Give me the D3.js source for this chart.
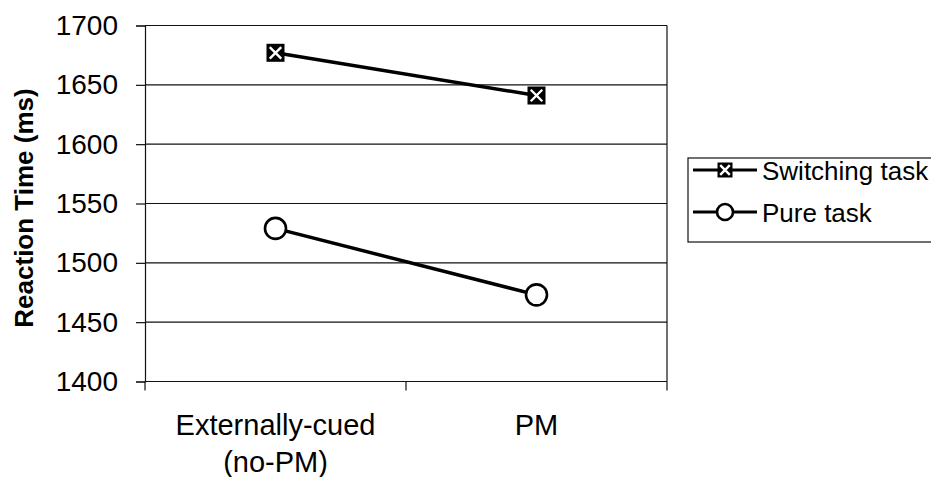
<!DOCTYPE html>
<html>
<head>
<meta charset="utf-8">
<script src="https://cdn.jsdelivr.net/npm/d3@7"></script>
<style>
  body { margin: 0; background: #fff; }
  text { font-family: "Liberation Sans", Arial, sans-serif; fill: #000; }
</style>
</head>
<body>
<div id="chart"></div>
<script>
"use strict";

var w = 931,
  h = 477;

// data
var categories = ["Externally-cued (no-PM)", "PM"];
var categoryLines = [["Externally-cued", "(no-PM)"], ["PM"]];
var switchingTask = [1677, 1641];
var pureTask = [1529, 1473];
var yTicks = [1400, 1450, 1500, 1550, 1600, 1650, 1700];
var seriesNames = ["Switching task", "Pure task"];

var plot = { left: 145, right: 667, top: 25.5, bottom: 381.5 };

var svg = d3.select("#chart").append("svg").attr("width", w).attr("height", h);

var x = d3.scaleBand().domain(categories).range([plot.left, plot.right]);
var y = d3.scaleLinear().domain([1400, 1700]).range([plot.bottom, plot.top]);

var cx = function (c) {
  return x(c) + x.bandwidth() / 2;
};

/**
 * Gridlines and right frame.
 */
svg.append("g")
  .selectAll("line")
  .data(yTicks.slice(1))
  .enter()
  .append("line")
  .attr("x1", plot.left)
  .attr("x2", plot.right)
  .attr("y1", function (d) { return y(d); })
  .attr("y2", function (d) { return y(d); })
  .attr("stroke", "#111")
  .attr("stroke-width", 1.2);

svg.append("line")
  .attr("x1", plot.right).attr("x2", plot.right)
  .attr("y1", plot.top).attr("y2", plot.bottom)
  .attr("stroke", "#111").attr("stroke-width", 1.2);

/**
 * Y axis.
 */
var yAxis = svg.append("g")
  .attr("transform", "translate(" + plot.left + ",0)")
  .call(d3.axisLeft(y).tickValues(yTicks).tickSize(9).tickPadding(18).tickFormat(d3.format("d")));
yAxis.selectAll("path, line").attr("stroke", "#111").attr("stroke-width", 1.2);
yAxis.selectAll("text")
  .style("font-size", "28px")
  .style("font-family", "'Liberation Sans', Arial, sans-serif")
  .attr("fill", "#000");

/**
 * X axis, ticks sit between the categories.
 */
svg.append("line")
  .attr("x1", plot.left).attr("x2", plot.right)
  .attr("y1", plot.bottom).attr("y2", plot.bottom)
  .attr("stroke", "#111").attr("stroke-width", 1.2);

var xEdges = categories.map(function (c) { return x(c); }).concat([plot.right]);
svg.append("g")
  .selectAll("line")
  .data(xEdges)
  .enter()
  .append("line")
  .attr("x1", function (d) { return d; })
  .attr("x2", function (d) { return d; })
  .attr("y1", plot.bottom)
  .attr("y2", plot.bottom + 9)
  .attr("stroke", "#111")
  .attr("stroke-width", 1.2);

var catLabels = svg.append("g")
  .selectAll("text")
  .data(categories)
  .enter()
  .append("text")
  .attr("text-anchor", "middle")
  .style("font-size", "29px")
  .attr("x", function (c) { return cx(c); })
  .attr("y", 435);
catLabels.each(function (c, i) {
  var t = d3.select(this);
  categoryLines[i].forEach(function (line, k) {
    t.append("tspan").attr("x", cx(c)).attr("dy", k === 0 ? 0 : 37).text(line);
  });
});

/**
 * Y axis title.
 */
svg.append("text")
  .attr("transform", "translate(33,208) rotate(-90)")
  .attr("text-anchor", "middle")
  .style("font-size", "26px")
  .style("font-weight", "bold")
  .text("Reaction Time (ms)");

/**
 * Series lines and markers.
 */
var line = d3.line()
  .x(function (d, i) { return cx(categories[i]); })
  .y(function (d) { return y(d); });

[switchingTask, pureTask].forEach(function (values) {
  svg.append("path")
    .attr("d", line(values))
    .attr("fill", "none")
    .attr("stroke", "#000")
    .attr("stroke-width", 3.5);
});

var drawSquare = function (g, px, py, s) {
  g.append("rect")
    .attr("x", px - s / 2).attr("y", py - s / 2)
    .attr("width", s).attr("height", s)
    .attr("fill", "#000");
  var k = s * 0.32;
  g.append("path")
    .attr("d", "M" + (px - k) + "," + (py - k) + "L" + (px + k) + "," + (py + k) +
      "M" + (px + k) + "," + (py - k) + "L" + (px - k) + "," + (py + k))
    .attr("stroke", "#fff")
    .attr("stroke-width", 2.4);
};

var drawCircle = function (g, px, py, r) {
  g.append("circle")
    .attr("cx", px).attr("cy", py).attr("r", r)
    .attr("fill", "#fff")
    .attr("stroke", "#000")
    .attr("stroke-width", 2.6);
};

var marks = svg.append("g");
switchingTask.forEach(function (v, i) {
  drawSquare(marks, cx(categories[i]), y(v), 18);
});
pureTask.forEach(function (v, i) {
  drawCircle(marks, cx(categories[i]), y(v), 10.5);
});

/**
 * Legend.
 */
var legend = svg.append("g");
legend.append("rect")
  .attr("x", 688).attr("y", 158)
  .attr("width", 250).attr("height", 84)
  .attr("fill", "#fff")
  .attr("stroke", "#111")
  .attr("stroke-width", 1.2);

seriesNames.forEach(function (name, i) {
  var ly = 170 + i * 42;
  legend.append("line")
    .attr("x1", 693).attr("x2", 757)
    .attr("y1", ly).attr("y2", ly)
    .attr("stroke", "#000")
    .attr("stroke-width", 3.2);
  if (i === 0) {
    drawSquare(legend, 725, ly, 15);
  } else {
    drawCircle(legend, 725, ly, 8);
  }
  legend.append("text")
    .attr("x", 762)
    .attr("y", ly + 10)
    .style("font-size", "26px")
    .text(name);
});
</script>
</body>
</html>
